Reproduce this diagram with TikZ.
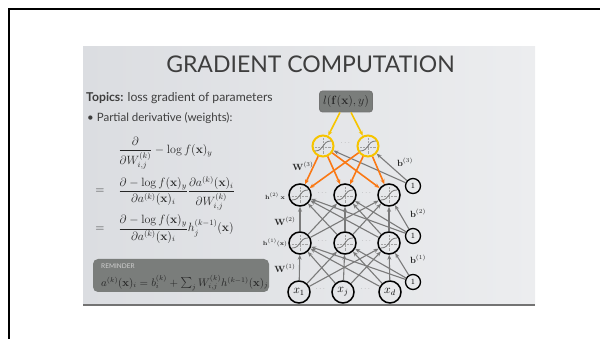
\documentclass[tikz,border=0pt]{standalone}
\usepackage[no-math]{fontspec}
\setmainfont{Lato}
\usepackage{amsmath}
\definecolor{slidetxt}{RGB}{62,62,62}
\definecolor{slidebgA}{RGB}{219,221,225}
\definecolor{slidebgB}{RGB}{236,237,239}
\definecolor{boxgray}{RGB}{122,125,123}
\definecolor{arrgray}{RGB}{122,122,122}
\definecolor{nnorange}{RGB}{250,120,20}
\definecolor{nnyellow}{RGB}{246,196,0}
\usetikzlibrary{arrows.meta,positioning}

\begin{document}
\begin{tikzpicture}[x=1pt,y=-1pt,
  neuron/.style={
    circle, draw=black, line width=1.5pt,
    minimum size=22pt, inner sep=0pt,
    font=\fontsize{12}{12}\selectfont
  },
  outneuron/.style={neuron, draw=nnyellow, line width=2pt, minimum size=21pt},
  biasnode/.style={
    circle, draw=black, line width=1.3pt,
    minimum size=15pt, inner sep=0pt,
    font=\fontsize{8}{8}\selectfont
  },
  lossbox/.style={
    rectangle, rounded corners=3pt,
    minimum width=53pt, minimum height=21pt,
    fill=boxgray, draw=black!55, line width=0.8pt,
    font=\fontsize{12}{12}\selectfont, text=black!85
  },
  conn/.style={-{Stealth[length=5pt,width=4pt]}, line width=1.1pt, draw=arrgray},
  backconn/.style={conn, draw=nnorange, line width=1.6pt},
  lossconn/.style={conn, draw=nnyellow, line width=1.6pt},
  wlabel/.style={font=\fontsize{9}{9}\selectfont, text=black!85},
  hlabel/.style={font=\fontsize{6.5}{6.5}\selectfont, text=black!85},
  dotsep/.style={font=\fontsize{6}{6}\selectfont, text=arrgray},
  eqn/.style={anchor=west, font=\fontsize{11.6}{13}\selectfont, text=black!85},
  sigm/.pic={
    \draw[arrgray!70, densely dotted, line width=0.4pt] (-8,1) -- (8,1) (0,-8) -- (0,8);
    \draw[arrgray, line width=0.8pt] (-8,5) .. controls (1.5,5) and (-1.5,-5) .. (8,-5);
  }
]
\useasboundingbox (0,0) rectangle (600,339);
\draw[line width=2pt] (9,339) -- (9,9) -- (600,9);

% slide
\shade[left color=slidebgA, right color=slidebgB] (83,47) rectangle (535,305);
\draw[line width=1.5pt, draw=black!55] (83,305) -- (535,305);

\node[text=slidetxt, font=\fontsize{23}{23}\selectfont] (title) at (310.5,64.5) {GRADIENT COMPUTATION};
\node[anchor=base west, inner sep=0pt, text=slidetxt, font=\fontsize{12.2}{12}\selectfont] (topics) at (86,102)
  {\textbf{Topics:} loss gradient of parameters};
\node[anchor=base west, inner sep=0pt, text=slidetxt, font=\fontsize{11.5}{12}\selectfont] (partial) at (87,122)
  {\textbullet\ Partial derivative (weights):};

% equations
\node[eqn] (eqA) at (115,153)
  {$\displaystyle\frac{\partial}{\partial W_{i,j}^{(k)}}-\log f(\mathbf{x})_y$};
\node[eqn] (eqB) at (115,193)
  {$\displaystyle\frac{\partial-\log f(\mathbf{x})_y}{\partial a^{(k)}(\mathbf{x})_i}\frac{\partial a^{(k)}(\mathbf{x})_i}{\partial W_{i,j}^{(k)}}$};
\node[eqn] (eqC) at (115,229)
  {$\displaystyle\frac{\partial-\log f(\mathbf{x})_y}{\partial a^{(k)}(\mathbf{x})_i}h_j^{(k-1)}(\mathbf{x})$};
\node[eqn, anchor=center] (eqBeq) at (100,191) {$=$};
\node[eqn, anchor=center] (eqCeq) at (100,229) {$=$};

% reminder
\node[rectangle, rounded corners=5pt, fill=boxgray, minimum width=176pt, minimum height=33pt] (rem) at (181,275.5) {};
\node[anchor=west, inner sep=0pt, text=black!18, font=\fontsize{6.5}{6.5}\selectfont] (remtitle) at (101,266) {REMINDER};
\node[anchor=west, inner sep=0pt, text=black!85, font=\fontsize{10.6}{10}\selectfont] (remeq) at (101,283)
  {$a^{(k)}(\mathbf{x})_i=b_i^{(k)}+\sum_j W_{i,j}^{(k)}h^{(k-1)}(\mathbf{x})_j$};

% network
\node[lossbox] (loss) at (346,101.5) {$l(\mathbf{f}(\mathbf{x}),y)$};
\node[outneuron] (outC1) at (323,146) {};
\node[outneuron] (outC2) at (368,146) {};
\node[neuron] (hidB1) at (300,195) {};
\node[neuron] (hidB2) at (345,195) {};
\node[neuron] (hidB3) at (389,195) {};
\node[neuron] (hidA1) at (300,243) {};
\node[neuron] (hidA2) at (345,243) {};
\node[neuron] (hidA3) at (389,243) {};
\node[neuron] (inA1) at (299,292) {$x_1$};
\node[neuron] (inA2) at (343,292) {$x_j$};
\node[neuron] (inA3) at (390,292) {$x_d$};
\node[biasnode] (biasC) at (413,186) {$1$};
\node[biasnode] (biasB) at (413,236) {$1$};
\node[biasnode] (biasA) at (413,282) {$1$};

\foreach \n in {outC1,outC2,hidB1,hidB2,hidB3,hidA1,hidA2,hidA3}
  \pic at (\n) {sigm};

\foreach \i in {1,2,3}{
  \foreach \j in {1,2,3}{
    \draw[conn] (inA\i) -- (hidA\j);
    \draw[conn] (hidA\i) -- (hidB\j);
  }
  \draw[conn] (biasA) -- (hidA\i);
  \draw[conn] (biasB) -- (hidB\i);
}
\foreach \i in {1,2}{
  \draw[conn] (biasC) -- (outC\i);
  \foreach \j in {1,2,3}
    \draw[backconn] (outC\i) -- (hidB\j);
}
\draw[lossconn] ([xshift=-6pt]loss.south) -- (outC1);
\draw[lossconn] ([xshift=5pt]loss.south) -- (outC2);

\node[dotsep] (dotsC) at (346,143) {$\cdots$};
\node[dotsep] (dotsB1) at (323,193) {$\cdots$};
\node[dotsep] (dotsB2) at (367,193) {$\cdots$};
\node[dotsep] (dotsA1) at (323,241) {$\cdots$};
\node[dotsep] (dotsA2) at (367,241) {$\cdots$};
\node[dotsep] (dotsI1) at (321,289) {$\cdots$};
\node[dotsep] (dotsI2) at (366,289) {$\cdots$};

\node[wlabel] (wC) at (303,166) {$\mathbf{W}^{(3)}$};
\node[wlabel] (bC) at (405,162) {$\mathbf{b}^{(3)}$};
\node[hlabel] (hB) at (275,196) {$\mathbf{h}^{(2)}$ $\mathbf{x}$};
\node[wlabel] (wB) at (285,221) {$\mathbf{W}^{(2)}$};
\node[wlabel] (bB) at (418,213) {$\mathbf{b}^{(2)}$};
\node[hlabel] (hA) at (275,243) {$\mathbf{h}^{(1)}(\mathbf{x})$};
\node[wlabel] (wA) at (285,268) {$\mathbf{W}^{(1)}$};
\node[wlabel] (bA) at (418,259) {$\mathbf{b}^{(1)}$};
\end{tikzpicture}
\end{document}
